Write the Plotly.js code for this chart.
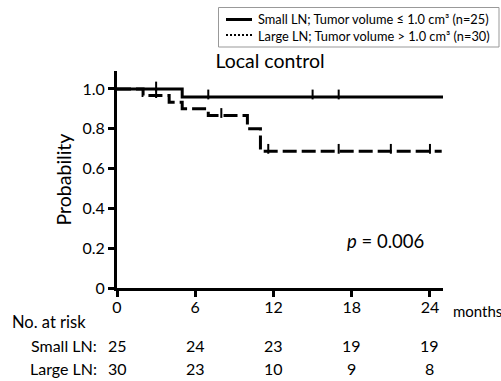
<!DOCTYPE html>
<html><head><meta charset="utf-8">
<script src="https://cdn.plot.ly/plotly-3.0.1.min.js"></script>
<style>body{margin:0;background:#fff}#c{width:501px;height:381px}</style>
</head><body><div id="c"></div>
<script>
// Kaplan-Meier data
const smallTimes = [0, 5, 25];
const smallSurv  = [1.0, 0.96, 0.96];
const smallCensor = [3, 7, 15, 17];
const largeTimes = [0, 2, 4, 5, 7, 10, 11, 24.9];
const largeSurv  = [1.0, 0.967, 0.933, 0.9, 0.867, 0.8, 0.687, 0.687];
const largeCensor = [3, 8, 11.6, 17, 21, 24];
const xTicks = [0, 6, 12, 18, 24];
const yTicks = [0, 0.2, 0.4, 0.6, 0.8, 1.0];
const yTickText = ['0', '0.2', '0.4', '0.6', '0.8', '1.0'];
const riskSmall = [25, 24, 23, 19, 19];
const riskLarge = [30, 23, 10, 9, 8];
const legendNames = ['Small LN; Tumor volume \u2264 1.0 cm\u00b3 (n=25)', 'Large LN; Tumor volume > 1.0 cm\u00b3 (n=30)'];

function stepAt(ts, ss, t) { let v = ss[0]; for (let i = 0; i < ts.length; i++) { if (ts[i] <= t) v = ss[i]; } return v; }

const F = 'Lato, "Open Sans", sans-serif';
const traces = [
  {x: smallTimes, y: smallSurv, mode: 'lines', line: {shape: 'hv', color: '#000', width: 3}, showlegend: false, hoverinfo: 'skip'},
  {x: largeTimes, y: largeSurv, mode: 'lines', line: {shape: 'hv', color: '#000', width: 3, dash: '14px,5px'}, showlegend: false, hoverinfo: 'skip'},
  {x: smallCensor, y: smallCensor.map(t => stepAt(smallTimes, smallSurv, t) + 0.012), mode: 'markers', marker: {symbol: 'line-ns-open', size: 7, color: '#000', line: {color: '#000', width: 2}}, showlegend: false, hoverinfo: 'skip'},
  {x: largeCensor, y: largeCensor.map(t => stepAt(largeTimes, largeSurv, t) + 0.012), mode: 'markers', marker: {symbol: 'line-ns-open', size: 7, color: '#000', line: {color: '#000', width: 2}}, showlegend: false, hoverinfo: 'skip'}
];

const plotTop = 71, plotBot = 288, plotH = plotBot - plotTop;
const py = p => (plotBot - p) / plotH;
const px = p => (p - 117) / 326;
const annotations = [];
const txt = (x, y, text, size, xanchor, xref) => ({x: x, xref: xref || 'paper', y: y, yref: 'paper', text: text, showarrow: false, font: {family: F, size: size, color: '#000'}, xanchor: xanchor, yanchor: 'middle'});
xTicks.forEach((t, i) => {
  annotations.push(txt(t, py(345), String(riskSmall[i]), 16, 'center', 'x'));
  annotations.push(txt(t, py(368), String(riskLarge[i]), 16, 'center', 'x'));
});
annotations.push(txt(px(10), py(322), 'No. at risk', 16.5, 'left'));
annotations.push(txt(px(99), py(345), 'Small LN:', 16, 'right'));
annotations.push(txt(px(99), py(368), 'Large LN:', 16, 'right'));
annotations.push(txt(px(451), py(311), 'months', 15, 'left'));
annotations.push(txt(px(385), py(241), '<i>p</i> = 0.006', 18.5, 'center'));
const leg = txt(px(257), py(27.5), legendNames.join('<br>'), 12.8, 'left');
leg.align = 'left'; leg.borderpad = 0;
annotations.push(leg);

const shapes = [
  {type: 'rect', xref: 'paper', yref: 'paper', x0: px(218.5), x1: px(499), y0: py(7.5), y1: py(47), line: {color: '#999', width: 1}, fillcolor: '#fff'},
  {type: 'line', xref: 'paper', yref: 'paper', x0: px(226), x1: px(252), y0: py(19.5), y1: py(19.5), line: {color: '#000', width: 3}},
  {type: 'line', xref: 'paper', yref: 'paper', x0: px(226), x1: px(252), y0: py(35), y1: py(35), line: {color: '#000', width: 2, dash: '2px,2px'}}
];

const layout = {
  width: 501, height: 381,
  margin: {l: 117, r: 58, t: plotTop, b: 381 - plotBot},
  paper_bgcolor: '#fff', plot_bgcolor: '#fff',
  font: {family: F, color: '#000'},
  showlegend: false,
  title: {text: 'Local control', font: {family: F, size: 19.5, color: '#000'}, x: 270 / 501, xanchor: 'center', xref: 'container', y: 1 - 61 / 381, yanchor: 'middle', yref: 'container'},
  xaxis: {range: [0, 25], tickvals: xTicks, ticktext: xTicks.map(String), ticks: 'outside', ticklen: 6, tickwidth: 3, tickcolor: '#000', showline: true, linewidth: 3, linecolor: '#000', showgrid: false, zeroline: false, tickfont: {family: F, size: 16, color: '#000'}, ticklabelstandoff: -3, fixedrange: true},
  yaxis: {range: [0, 1.09], tickvals: yTicks, ticktext: yTickText, ticks: 'outside', ticklen: 6, tickwidth: 3, tickcolor: '#000', showline: true, linewidth: 3, linecolor: '#000', showgrid: false, zeroline: false, tickfont: {family: F, size: 16, color: '#000'}, title: {text: 'Probability', font: {family: F, size: 19.5, color: '#000'}, standoff: 6}, fixedrange: true},
  shapes: shapes,
  annotations: annotations
};
Plotly.newPlot('c', traces, layout, {displayModeBar: false, staticPlot: true});
</script></body></html>
